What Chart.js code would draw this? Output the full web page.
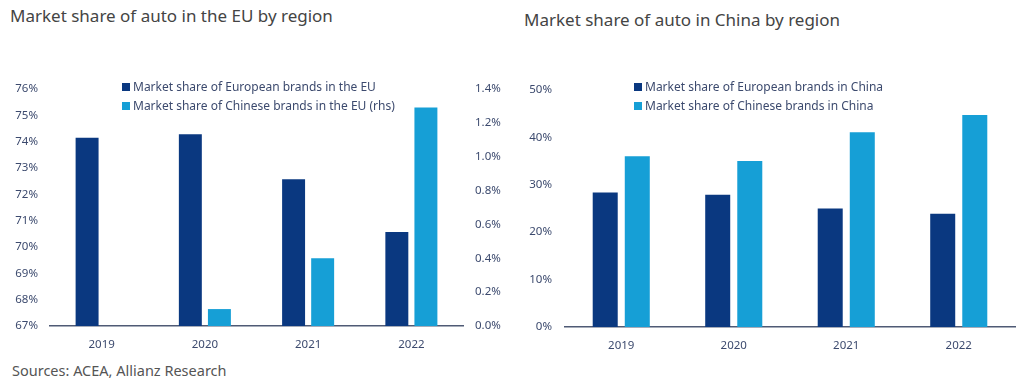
<!DOCTYPE html>
<html>
<head>
<meta charset="utf-8">
<script src="https://cdn.jsdelivr.net/npm/chart.js@4.4.1/dist/chart.umd.min.js"></script>
<style>
  html, body { margin: 0; padding: 0; background: #fff; }
  body { width: 1024px; height: 383px; position: relative; overflow: hidden; font-family: "Noto Sans", sans-serif; }
  .title { position: absolute; font-size: 17px; color: #444; white-space: nowrap; line-height: 22px; }
  .src { position: absolute; left: 12px; top: 360px; font-size: 14.5px; color: #555; line-height: 20px; }
  .cw { position: absolute; top: 60px; width: 512px; height: 300px; }
  .legend { position: absolute; font-size: 12px; color: #3c4a6e; line-height: 19px; white-space: nowrap; }
  .legend span.sw { display: inline-block; width: 8px; height: 8px; margin-right: 3px; vertical-align: 0px; }
</style>
</head>
<body>
<div class="title" style="left:10px; top:5px;">Market share of auto in the EU by region</div>
<div class="title" style="left:524px; top:9px;">Market share of auto in China by region</div>
<div class="cw" style="left:0px;"><canvas id="c1" width="512" height="300"></canvas></div>
<div class="cw" style="left:512px;"><canvas id="c2" width="512" height="300"></canvas></div>
<div class="legend" id="lg1" style="left:122px; top:77px;"></div>
<div class="legend" id="lg2" style="left:634px; top:77px;"></div>
<div class="src">Sources: ACEA, Allianz Research</div>
<script>
const years = ["2019", "2020", "2021", "2022"];
// EU chart (%)
const euEuropeanShare = [74.15, 74.28, 72.57, 70.57];
const euChineseShare = [0, 0.1, 0.4, 1.29];
const euLeftTicks = [67, 68, 69, 70, 71, 72, 73, 74, 75, 76];
const euRightTicks = [0, 0.2, 0.4, 0.6, 0.8, 1.0, 1.2, 1.4];
// China chart (%)
const cnEuropeanShare = [28.4, 27.9, 25.0, 23.9];
const cnChineseShare = [36.0, 35.0, 41.1, 44.7];
const cnTicks = [0, 10, 20, 30, 40, 50];

const labelsEU = ["Market share of European brands in the EU", "Market share of Chinese brands in the EU (rhs)"];
const labelsCN = ["Market share of European brands in China", "Market share of Chinese brands in China"];

const DARK = "#0a3880";
const LIGHT = "#169fd6";
const TXT = "#3c4a6e";
const AXIS = "#4f5a75";
const FONT = { family: "Noto Sans", size: 11.5 };

function legend(id, labels) {
  const el = document.getElementById(id);
  el.innerHTML = labels.map((l, i) =>
    '<div><span class="sw" style="background:' + (i === 0 ? DARK : LIGHT) + '"></span>' + l + '</div>').join("");
}
legend("lg1", labelsEU);
legend("lg2", labelsCN);

Chart.defaults.font.family = "Noto Sans";
Chart.defaults.animation = false;

function fixedWidth(w) { return function (s) { s.width = w; }; }
function fixedHeight(h) { return function (s) { s.height = h; }; }

new Chart(document.getElementById("c1"), {
  type: "bar",
  data: {
    labels: years,
    datasets: [
      { label: labelsEU[0], data: euEuropeanShare, backgroundColor: DARK, yAxisID: "y", categoryPercentage: 0.563, barPercentage: 0.79 },
      { label: labelsEU[1], data: euChineseShare, backgroundColor: LIGHT, yAxisID: "y2", categoryPercentage: 0.563, barPercentage: 0.79 }
    ]
  },
  options: {
    responsive: false,
    layout: { padding: { top: 29, left: 0, right: 0, bottom: 0 } },
    plugins: { legend: { display: false }, tooltip: { enabled: false } },
    scales: {
      x: {
        grid: { display: false },
        border: { display: true, color: AXIS, width: 1.5 },
        ticks: { color: TXT, font: FONT, padding: 4 },
        afterFit: fixedHeight(34)
      },
      y: {
        position: "left", min: 67, max: 76,
        afterBuildTicks: s => { s.ticks = euLeftTicks.map(v => ({ value: v })); },
        grid: { display: false, drawTicks: false },
        border: { display: false },
        ticks: { color: TXT, font: FONT, padding: 12, callback: v => v + "%" },
        afterFit: fixedWidth(50)
      },
      y2: {
        position: "right", min: 0, max: 1.4,
        afterBuildTicks: s => { s.ticks = euRightTicks.map(v => ({ value: v })); },
        grid: { display: false, drawTicks: false },
        border: { display: false },
        ticks: { color: TXT, font: FONT, padding: 12, callback: v => v.toFixed(1) + "%" },
        afterFit: fixedWidth(49)
      }
    }
  }
});

new Chart(document.getElementById("c2"), {
  type: "bar",
  data: {
    labels: years,
    datasets: [
      { label: labelsCN[0], data: cnEuropeanShare, backgroundColor: DARK, categoryPercentage: 0.57, barPercentage: 0.78 },
      { label: labelsCN[1], data: cnChineseShare, backgroundColor: LIGHT, categoryPercentage: 0.57, barPercentage: 0.78 }
    ]
  },
  options: {
    responsive: false,
    layout: { padding: { top: 30, left: 0, right: 9, bottom: 0 } },
    plugins: { legend: { display: false }, tooltip: { enabled: false } },
    scales: {
      x: {
        grid: { display: false },
        border: { display: true, color: AXIS, width: 1.5 },
        ticks: { color: TXT, font: FONT, padding: 4 },
        afterFit: fixedHeight(33)
      },
      y: {
        position: "left", min: 0, max: 50,
        afterBuildTicks: s => { s.ticks = cnTicks.map(v => ({ value: v })); },
        grid: { display: false, drawTicks: false },
        border: { display: false },
        ticks: { color: TXT, font: FONT, padding: 13, callback: v => v + "%" },
        afterFit: fixedWidth(53)
      }
    }
  }
});
</script>
</body>
</html>
